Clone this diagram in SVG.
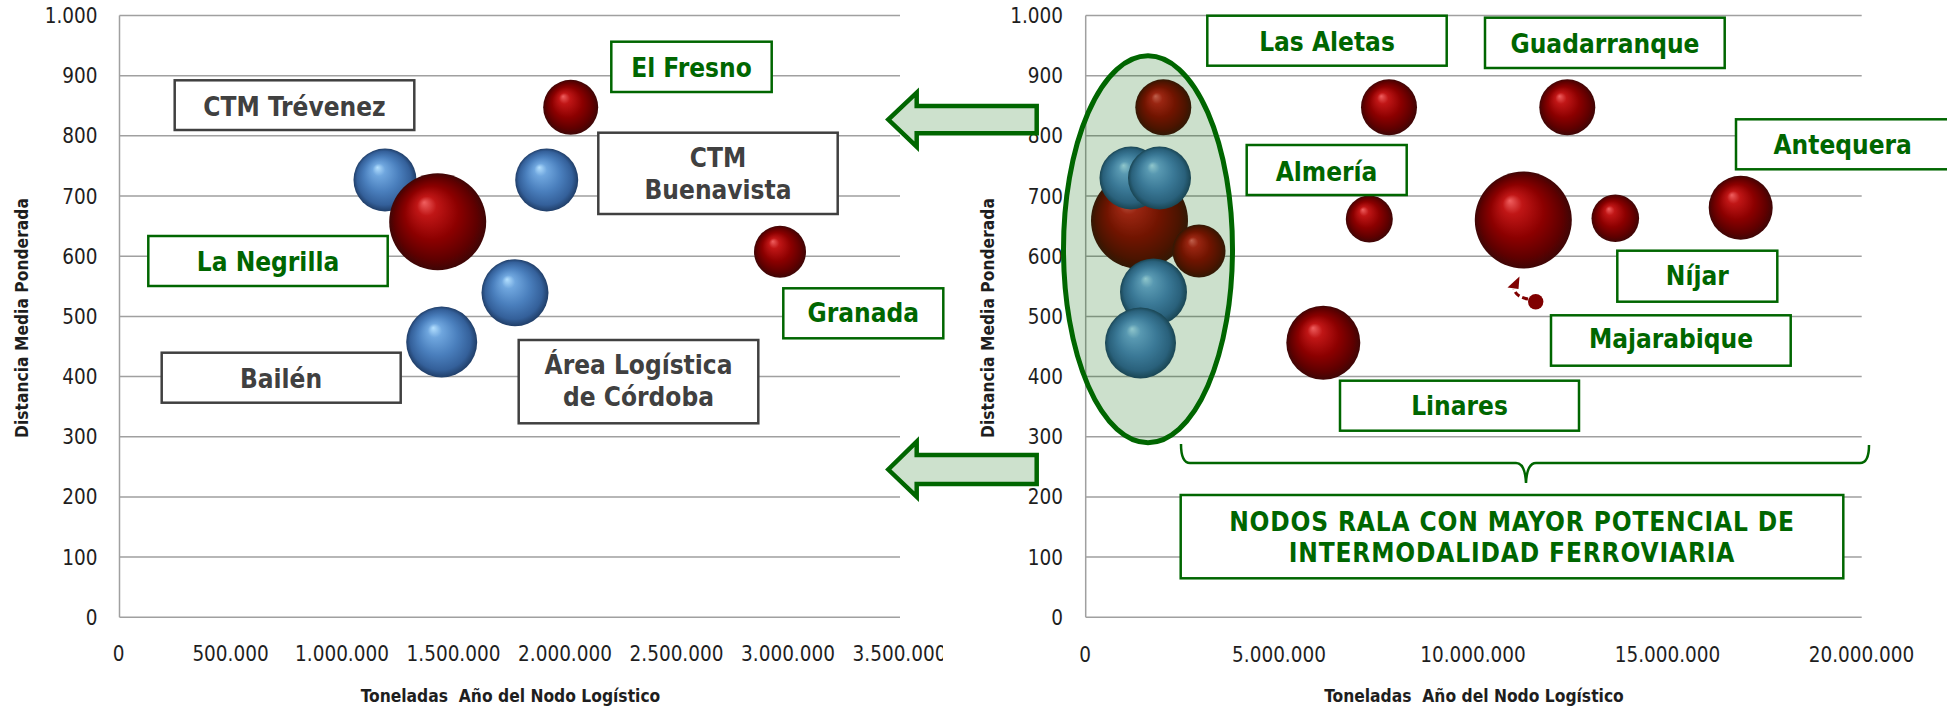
<svg xmlns="http://www.w3.org/2000/svg" width="1947" height="709" viewBox="0 0 1947 709">
<style>
.grid{stroke:#a0a0a0;stroke-width:1.5;fill:none}
.tick{font-family:"DejaVu Sans Condensed","DejaVu Sans",sans-serif;font-stretch:condensed;font-size:20.5px;fill:#1e1e1e}
.ty{text-anchor:end}
.tx{text-anchor:middle}
.ax{font-family:"DejaVu Sans Condensed","DejaVu Sans",sans-serif;font-stretch:condensed;font-weight:bold;font-size:17.3px;fill:#1e1e1e;text-anchor:middle}
.lbl{font-family:"DejaVu Sans Condensed","DejaVu Sans",sans-serif;font-stretch:condensed;font-weight:bold;font-size:26px;text-anchor:middle}
.wide{letter-spacing:0.85px}
.g{fill:#006600}
.d{fill:#404040}
.bg{fill:#fff;stroke:#006600;stroke-width:2.5}
.bd{fill:#fff;stroke:#404040;stroke-width:2.5}
.red{fill:url(#redG)}
.blue{fill:url(#blueG)}
.arrow{fill:#cde1cd;stroke:#006600;stroke-width:4.5;stroke-linejoin:miter}
</style>
<defs>
<radialGradient id="redG" cx="0.5" cy="0.5" r="0.5" fx="0.36" fy="0.3">
<stop offset="0" stop-color="#f06060"/>
<stop offset="0.2" stop-color="#c01616"/>
<stop offset="0.55" stop-color="#8c0000"/>
<stop offset="0.85" stop-color="#5e0000"/>
<stop offset="1" stop-color="#3e0606"/>
</radialGradient>
<radialGradient id="blueG" cx="0.5" cy="0.5" r="0.5" fx="0.38" fy="0.3">
<stop offset="0" stop-color="#b4e0ff"/>
<stop offset="0.2" stop-color="#6fa6de"/>
<stop offset="0.55" stop-color="#4a7fbd"/>
<stop offset="0.85" stop-color="#34609a"/>
<stop offset="1" stop-color="#203e68"/>
</radialGradient>
<clipPath id="clipL"><rect x="0" y="0" width="943" height="709"/></clipPath>
</defs>
<rect width="1947" height="709" fill="#fff"/>

<!-- LEFT CHART axes -->
<g id="left-axes">
<path class="grid" d="M119.5,15.5H900M119.5,75.7H900M119.5,135.8H900M119.5,196H900M119.5,256.2H900M119.5,316.4H900M119.5,376.5H900M119.5,436.7H900M119.5,496.9H900M119.5,557H900M119.5,617.2H900M119.5,15.5V617.2"/>
<g class="tick ty">
<text x="97.5" y="23">1.000</text>
<text x="97.5" y="83.2">900</text>
<text x="97.5" y="143.3">800</text>
<text x="97.5" y="203.5">700</text>
<text x="97.5" y="263.7">600</text>
<text x="97.5" y="323.9">500</text>
<text x="97.5" y="384">400</text>
<text x="97.5" y="444.2">300</text>
<text x="97.5" y="504.4">200</text>
<text x="97.5" y="564.5">100</text>
<text x="97.5" y="624.7">0</text>
</g>
<g class="tick tx" clip-path="url(#clipL)">
<text x="118.5" y="660.5">0</text>
<text x="230.5" y="660.5">500.000</text>
<text x="342" y="660.5">1.000.000</text>
<text x="453.5" y="660.5">1.500.000</text>
<text x="565" y="660.5">2.000.000</text>
<text x="676.5" y="660.5">2.500.000</text>
<text x="788" y="660.5">3.000.000</text>
<text x="899.5" y="660.5">3.500.000</text>
</g>
<text class="ax" x="510.5" y="702" xml:space="preserve">Toneladas  Año del Nodo Logístico</text>
<text class="ax" transform="translate(28,318) rotate(-90)">Distancia Media Ponderada</text>
</g>

<!-- RIGHT CHART axes -->
<g id="right-axes">
<path class="grid" d="M1085.7,15.5H1861.7M1085.7,75.7H1861.7M1085.7,135.8H1861.7M1085.7,196H1861.7M1085.7,256.2H1861.7M1085.7,316.4H1861.7M1085.7,376.5H1861.7M1085.7,436.7H1861.7M1085.7,496.9H1861.7M1085.7,557H1861.7M1085.7,617.2H1861.7M1085.7,15.5V617.2"/>
<g class="tick ty">
<text x="1063" y="23">1.000</text>
<text x="1063" y="83.2">900</text>
<text x="1063" y="143.3">800</text>
<text x="1063" y="203.5">700</text>
<text x="1063" y="263.7">600</text>
<text x="1063" y="323.9">500</text>
<text x="1063" y="384">400</text>
<text x="1063" y="444.2">300</text>
<text x="1063" y="504.4">200</text>
<text x="1063" y="564.5">100</text>
<text x="1063" y="624.7">0</text>
</g>
<g class="tick tx">
<text x="1085" y="661.5">0</text>
<text x="1279" y="661.5">5.000.000</text>
<text x="1473" y="661.5">10.000.000</text>
<text x="1667.5" y="661.5">15.000.000</text>
<text x="1861.5" y="661.5">20.000.000</text>
</g>
<text class="ax" x="1474" y="702" xml:space="preserve">Toneladas  Año del Nodo Logístico</text>
<text class="ax" transform="translate(994,318) rotate(-90)">Distancia Media Ponderada</text>
</g>

<!-- LEFT bubbles -->
<g id="left-bubbles">
<circle id="lb-blue1" class="blue" cx="385" cy="180" r="31.5"/>
<circle id="lb-blue2" class="blue" cx="546.7" cy="180" r="31.5"/>
<circle id="lb-blue3" class="blue" cx="515" cy="292.7" r="33.5"/>
<circle id="lb-blue4" class="blue" cx="441.7" cy="342" r="35.5"/>
<circle id="lb-red1" class="red" cx="437.7" cy="221.7" r="48.5"/>
<circle id="lb-red2" class="red" cx="570.7" cy="107.3" r="27.5"/>
<circle id="lb-red3" class="red" cx="780" cy="251.7" r="26"/>
</g>

<!-- RIGHT bubbles -->
<g id="right-bubbles">
<circle id="rb-red1" class="red" cx="1139.5" cy="220.5" r="48.5"/>
<circle id="rb-red2" class="red" cx="1163.3" cy="107.3" r="28"/>
<circle id="rb-red3" class="red" cx="1199" cy="251" r="26.5"/>
<circle id="rb-blue1" class="blue" cx="1131" cy="178" r="31.5"/>
<circle id="rb-blue2" class="blue" cx="1159.5" cy="178" r="31.5"/>
<circle id="rb-blue3" class="blue" cx="1153.5" cy="292" r="33.5"/>
<circle id="rb-blue4" class="blue" cx="1140.5" cy="343" r="35.5"/>
<circle id="rb-red4" class="red" cx="1389" cy="107.3" r="28"/>
<circle id="rb-red5" class="red" cx="1369.3" cy="219" r="23.5"/>
<circle id="rb-red6" class="red" cx="1323.3" cy="342.7" r="37"/>
<circle id="rb-red7" class="red" cx="1567.3" cy="107.3" r="28"/>
<circle id="rb-red8" class="red" cx="1523.3" cy="220" r="48.5"/>
<circle id="rb-red9" class="red" cx="1615.3" cy="218.3" r="23.8"/>
<circle id="rb-red10" class="red" cx="1740.7" cy="207.7" r="32"/>
<circle id="rb-dot" cx="1535.7" cy="301.7" r="7.7" fill="#800000"/>
</g>

<g id="highlight-ellipse">
<ellipse cx="1148" cy="249.2" rx="84.5" ry="193.5" fill="#006600" fill-opacity="0.2" stroke="#006600" stroke-width="5"/>
</g>

<!-- LEFT labels -->
<g id="n-ctm-trevenez"><rect class="bd" x="174.7" y="80.3" width="239.6" height="49.7"/><text class="lbl d" x="294.5" y="115.7">CTM Trévenez</text></g>
<g id="n-el-fresno"><rect class="bg" x="611.3" y="41.7" width="160.4" height="50.3"/><text class="lbl g" x="691.5" y="76.7">El Fresno</text></g>
<g id="n-ctm-buenavista"><rect class="bd" x="598.3" y="132.7" width="239.4" height="81.3"/><text class="lbl d" x="718" y="166.7">CTM</text><text class="lbl d" x="718" y="199.3">Buenavista</text></g>
<g id="n-la-negrilla"><rect class="bg" x="148.3" y="236" width="239.4" height="50"/><text class="lbl g" x="268" y="270.7">La Negrilla</text></g>
<g id="n-granada"><rect class="bg" x="783.3" y="288.3" width="160" height="50"/><text class="lbl g" x="863.3" y="321.7">Granada</text></g>
<g id="n-bailen"><rect class="bd" x="161.7" y="352.7" width="239" height="50"/><text class="lbl d" x="281" y="387.7">Bailén</text></g>
<g id="n-cordoba"><rect class="bd" x="518.7" y="340" width="239.6" height="83.3"/><text class="lbl d" x="638.5" y="374.3">Área Logística</text><text class="lbl d" x="638.5" y="406">de Córdoba</text></g>

<!-- RIGHT labels -->
<g id="n-las-aletas"><rect class="bg" x="1207.3" y="15.7" width="239.4" height="50"/><text class="lbl g" x="1327" y="50.7">Las Aletas</text></g>
<g id="n-guadarranque"><rect class="bg" x="1485" y="17.7" width="239.7" height="50.3"/><text class="lbl g" x="1605" y="52.7">Guadarranque</text></g>
<g id="n-almeria"><rect class="bg" x="1246.7" y="145" width="160" height="50"/><text class="lbl g" x="1326.5" y="180.7">Almería</text></g>
<g id="n-antequera"><rect class="bg" x="1736" y="119.3" width="230" height="50"/><text class="lbl g" x="1842.7" y="154.3">Antequera</text></g>
<g id="n-nijar"><rect class="bg" x="1617.3" y="250.7" width="160" height="51"/><text class="lbl g" x="1697.3" y="285">Níjar</text></g>
<g id="n-majarabique"><rect class="bg" x="1551" y="315.3" width="239.7" height="50.4"/><text class="lbl g" x="1671" y="348.3">Majarabique</text></g>
<g id="n-linares"><rect class="bg" x="1340" y="380.7" width="239" height="50"/><text class="lbl g" x="1459.5" y="415">Linares</text></g>
<g id="n-nodos"><rect class="bg" x="1180.7" y="495" width="662.6" height="83.3"/><text class="lbl g wide" x="1512" y="531">NODOS RALA CON MAYOR POTENCIAL DE</text><text class="lbl g wide" x="1512" y="561.7">INTERMODALIDAD FERROVIARIA</text></g>

<!-- connectors -->
<g id="connectors">
<polygon class="arrow" points="1036.7,106 916.7,106 916.7,92.7 888.3,119.5 916.7,146.7 916.7,133.3 1036.7,133.3"/>
<polygon class="arrow" points="1036.7,455 916.7,455 916.7,441.7 888.3,469.5 916.7,496.7 916.7,484 1036.7,484"/>
<path d="M1181,444 Q1181,463 1190,463 L1516,463 Q1525,463 1526,483 Q1527,463 1536,463 L1860,463 Q1869,463 1869,445" fill="none" stroke="#006600" stroke-width="2.5"/>
<path d="M1528,299 Q1516,297 1514,289" fill="none" stroke="#800000" stroke-width="3" stroke-dasharray="6,3"/>
<polygon points="1519.5,276.5 1507.5,287.5 1518.5,289" fill="#800000"/>
</g>
</svg>
